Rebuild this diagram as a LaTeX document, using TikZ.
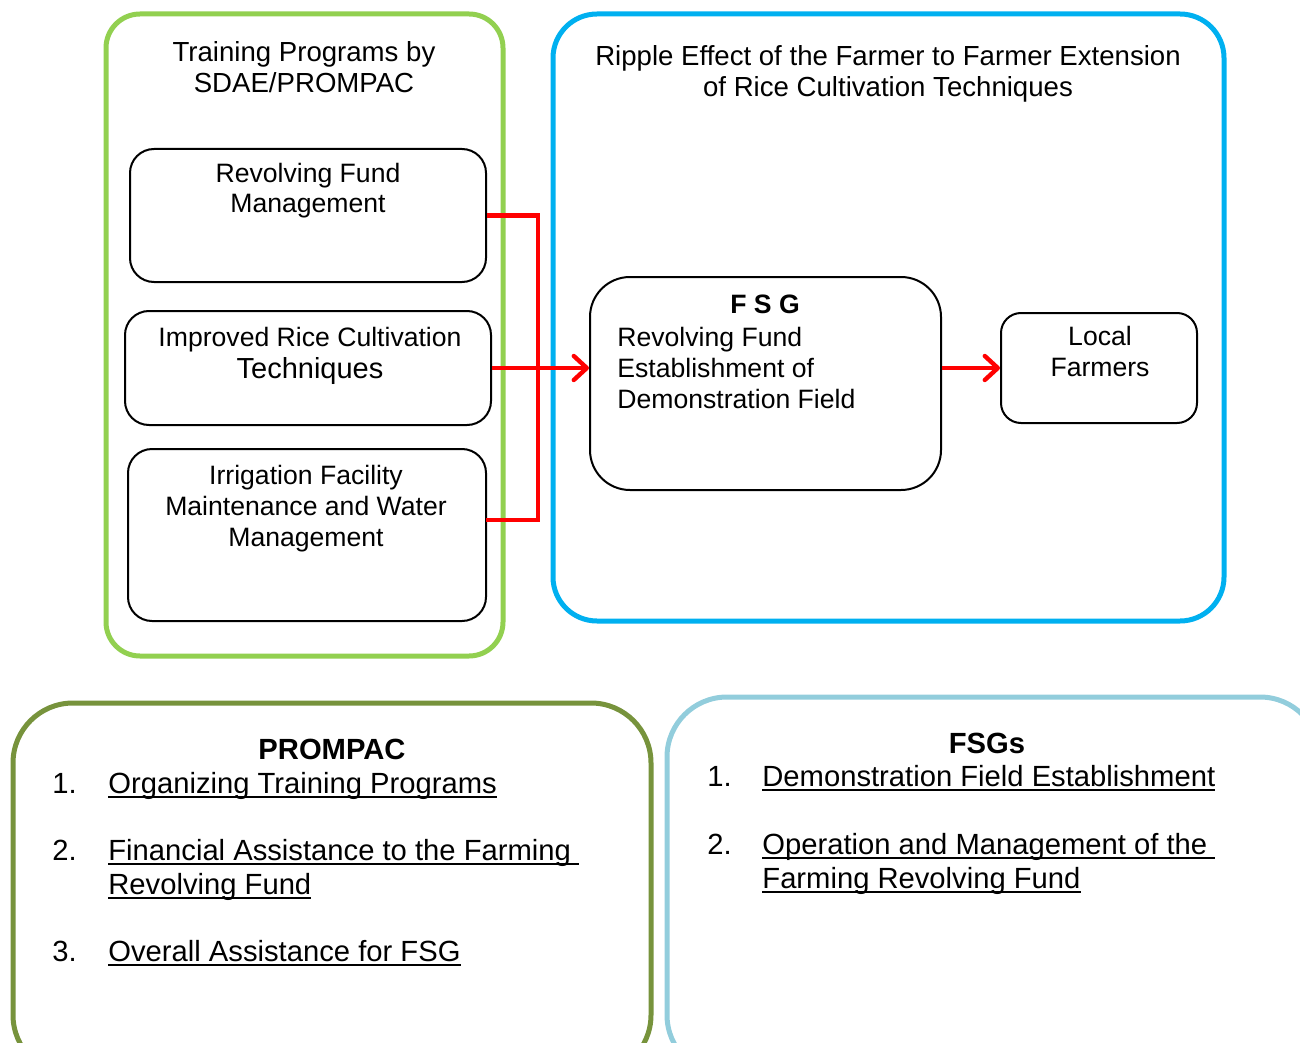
\documentclass[tikz,border=0pt]{standalone}
\usepackage{fontspec}
\setmainfont{Liberation Sans}
\usetikzlibrary{arrows.meta}
\definecolor{limegreen}{HTML}{92D050}
\definecolor{skyblue}{HTML}{00B0F0}
\definecolor{olivegreen}{HTML}{77933C}
\definecolor{paleblue}{HTML}{92CDDC}
\newsavebox\ulinebox
\newcommand\ulinetext[1]{\sbox\ulinebox{#1}\rlap{\rule[-2.4pt]{\wd\ulinebox}{0.9pt}}\usebox\ulinebox}
\tikzset{
  outerbox/.style={draw=#1, line width=2.5pt, inner sep=0pt},
  innerbox/.style={draw, line width=1pt, inner sep=0pt},
  titletext/.style={font=\fontsize{13.8}{15.8}\selectfont, align=center, anchor=base},
  boxtext/.style={font=\fontsize{13.3}{15.3}\selectfont, align=center, anchor=base},
  itemtext/.style={font=\fontsize{14.6}{17}\selectfont, align=left, anchor=base west, inner sep=0pt},
  headtext/.style={font=\fontsize{14.6}{17}\selectfont\bfseries, anchor=base},
  redline/.style={draw=red, line width=2.2pt},
  redarrow/.style={redline, -{Straight Barb[length=6.5pt,width=12pt,round]}}
}
\begin{document}
\begin{tikzpicture}[x=0.5pt, y=-0.5pt]
  \useasboundingbox (0,0) rectangle (1300,1043);
  \clip (0,0) rectangle (1300,1043);
  % training programs (text anchored on its last baseline)
  \node (trainbox) [outerbox=limegreen, rounded corners=17pt, minimum width=198.5pt, minimum height=321pt] at (304.5,335) {};
  \node (traintitle) [titletext] at (304,93) {Training Programs by\\SDAE/PROMPAC};
  \node (rfm) [innerbox, rounded corners=12pt, minimum width=178pt, minimum height=66.5pt] at (308,215.5) {};
  \node (rfmtext) [boxtext] at (308,213) {Revolving Fund\\Management};
  \node (irct) [innerbox, rounded corners=12pt, minimum width=183pt, minimum height=57pt] at (308,368) {};
  \node (ircttext) [boxtext] at (310,378) {Improved Rice Cultivation\\[0.6pt]{\fontsize{14.5}{16}\selectfont Techniques}};
  \node (ifm) [innerbox, rounded corners=12pt, minimum width=179pt, minimum height=86pt] at (307,535) {};
  \node (ifmtext) [boxtext] at (306,546) {Irrigation Facility\\Maintenance and Water\\Management};
  % ripple effect
  \node (ripplebox) [outerbox=skyblue, rounded corners=22pt, minimum width=335.5pt, minimum height=303.5pt] at (888.5,317.5) {};
  \node (rippletitle) [titletext] at (888,97) {Ripple Effect of the Farmer to Farmer Extension\\of Rice Cultivation Techniques};
  \node (fsg) [innerbox, rounded corners=20pt, minimum width=175.5pt, minimum height=106.5pt] at (765.5,383.5) {};
  \node (fsghead) [boxtext, font=\fontsize{13.3}{15.3}\selectfont\bfseries] at (765,314) {F S G};
  \node (fsgtext) [boxtext, align=left, anchor=base west, inner sep=0pt] at (617,408) {Revolving Fund\\Establishment of\\Demonstration Field};
  \node (farmers) [innerbox, rounded corners=10pt, minimum width=98pt, minimum height=55pt] at (1099,368) {};
  \node (farmerstext) [boxtext] at (1100,376) {Local\\Farmers};
  % connectors
  \coordinate (bus) at (538,0);
  \coordinate (ifmout) at (486,520);
  \draw[redline] (rfm.east) -| (bus |- ifmout) -- (ifmout);
  \draw[redarrow] (irct.east) -- (irct.east -| fsg.west);
  \draw[redarrow] (fsg.east |- farmers.west) -- (farmers.west);
  % roles
  \node (prompacbox) [outerbox=olivegreen, rounded corners=30pt, minimum width=319pt, minimum height=186pt] at (332,889) {};
  \node (prompachead) [headtext] at (332,759) {PROMPAC};
  \node (pitem1) [itemtext] at (52,793) {\makebox[28pt][l]{1.}\ulinetext{Organizing Training Programs}};
  \node (pitem2) [itemtext] at (52,894) {\makebox[28pt][l]{2.}\ulinetext{Financial Assistance to the Farming\ }\\\hspace*{28pt}\ulinetext{Revolving Fund}};
  \node (pitem3) [itemtext] at (52,961) {\makebox[28pt][l]{3.}\ulinetext{Overall Assistance for FSG}};
  \node (fsgsbox) [outerbox=paleblue, rounded corners=30pt, minimum width=326.5pt, minimum height=189pt] at (993.5,886) {};
  \node (fsgshead) [headtext] at (987,753) {FSGs};
  \node (fitem1) [itemtext] at (707,786) {\makebox[27.5pt][l]{1.}\ulinetext{Demonstration Field Establishment}};
  \node (fitem2) [itemtext] at (707,888) {\makebox[27.5pt][l]{2.}\ulinetext{Operation and Management of the\ }\\\hspace*{27.5pt}\ulinetext{Farming Revolving Fund}};
\end{tikzpicture}
\end{document}
